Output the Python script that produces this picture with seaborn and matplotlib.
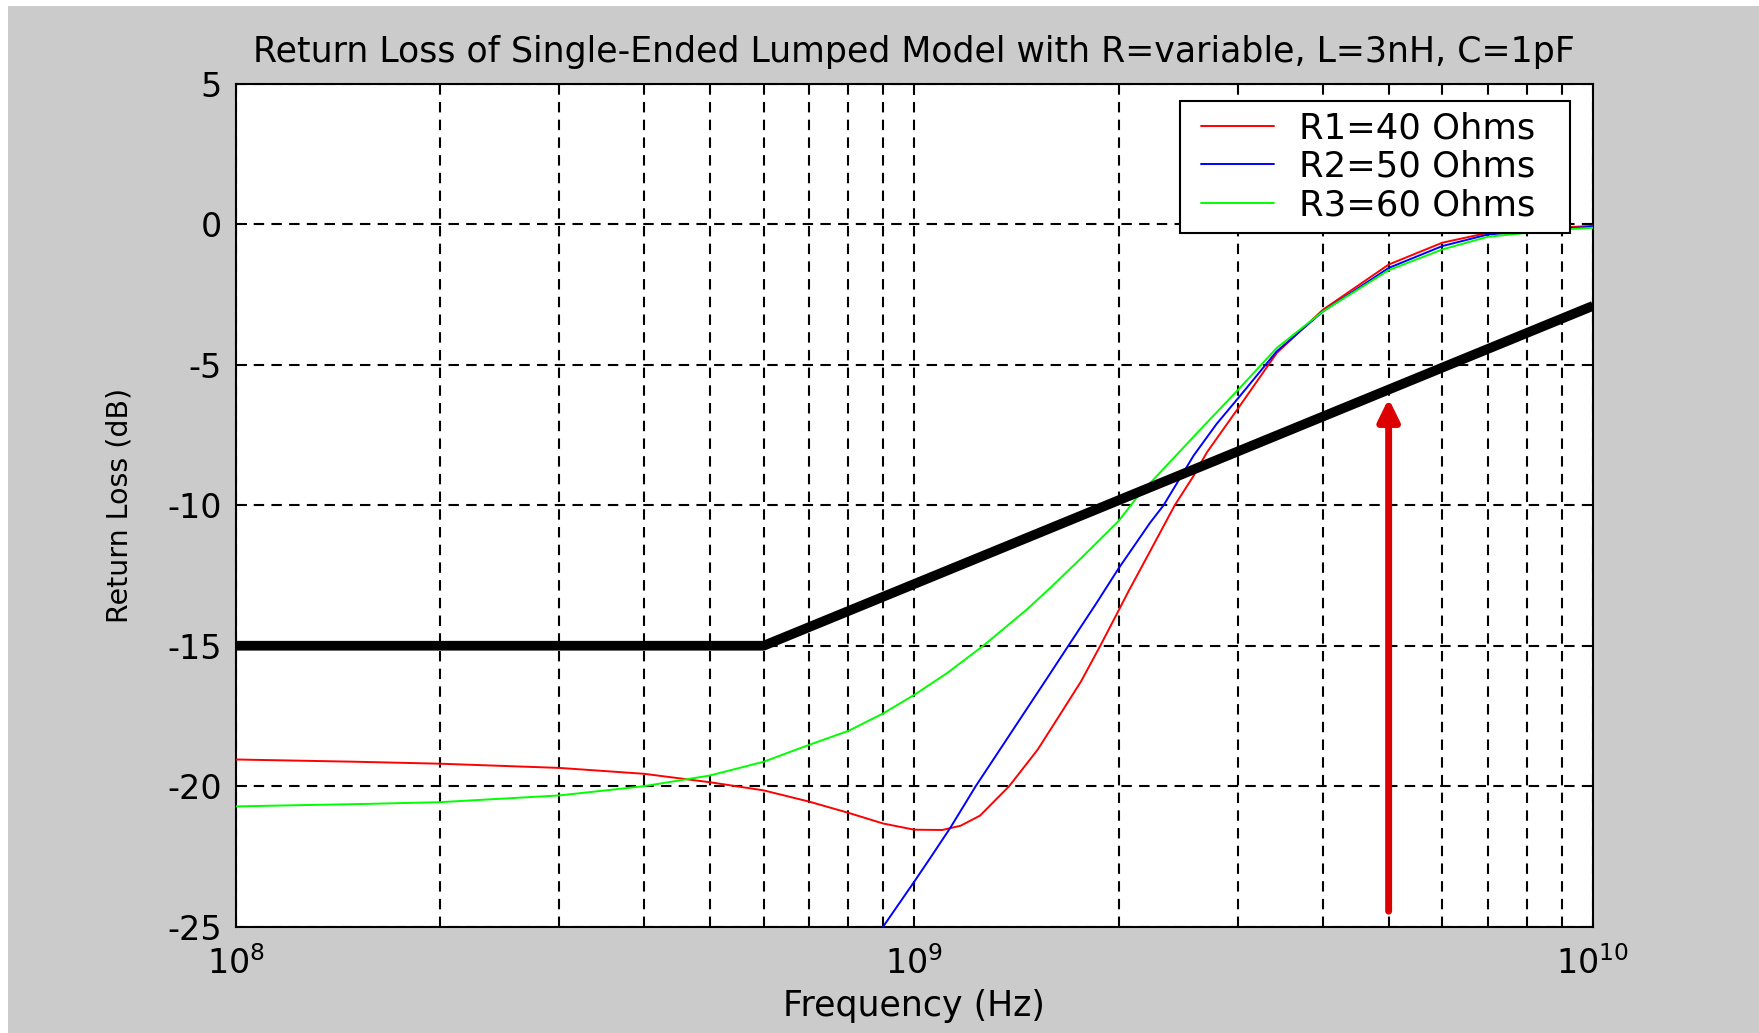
import numpy as np
import pandas as pd
import matplotlib
matplotlib.use("Agg")
import matplotlib.pyplot as plt
from matplotlib.patches import Rectangle
from matplotlib.lines import Line2D
from matplotlib.legend_handler import HandlerLine2D
from matplotlib.ticker import LogLocator, NullFormatter
import seaborn as sns

# values (frequency in Hz, return loss in dB)
r1_freq = [1e8, 1.5e8, 2e8, 3e8, 4e8, 5e8, 6e8, 7e8, 8e8, 9e8, 1e9, 1.1e9,
           1.17e9, 1.25e9, 1.38e9, 1.52e9, 1.64e9, 1.76e9, 1.88e9, 2e9, 2.07e9,
           2.23e9, 2.42e9, 2.58e9, 2.7e9, 3e9, 3.42e9, 4e9, 5e9, 6e9, 7e9,
           8e9, 1e10]
r1_db = [-19.05, -19.13, -19.2, -19.35, -19.56, -19.86, -20.15, -20.55, -20.95,
         -21.33, -21.55, -21.56, -21.41, -21.05, -20.0, -18.7, -17.45, -16.28,
         -15.0, -13.75, -13.05, -11.6, -10.0, -8.95, -8.11, -6.55, -4.58, -3.04,
         -1.43, -0.65, -0.30, -0.18, -0.05]

r2_freq = [9.0e8, 1e9, 1.057e9, 1.131e9, 1.232e9, 1.4e9, 1.57e9, 1.687e9,
           1.857e9, 2e9, 2.226e9, 2.33e9, 2.58e9, 2.79e9, 3e9, 3.42e9, 4e9,
           5e9, 6e9, 7e9, 8e9, 1e10]
r2_db = [-25.0, -23.4, -22.54, -21.47, -20.0, -17.97, -16.15, -15.0, -13.47,
         -12.25, -10.62, -10.0, -8.23, -7.1, -6.19, -4.52, -3.10, -1.55, -0.77,
         -0.36, -0.24, -0.08]

r3_freq = [1e8, 1.57e8, 2e8, 3e8, 4e8, 5e8, 6e8, 7e8, 8e8, 9e8, 1e9, 1.117e9,
           1.264e9, 1.465e9, 1.585e9, 1.755e9, 2e9, 2.127e9, 2.27e9, 2.7e9,
           3e9, 3.42e9, 4e9, 5e9, 6e9, 7e9, 8e9, 9e9, 1e10]
r3_db = [-20.72, -20.63, -20.57, -20.33, -20.0, -19.62, -19.13, -18.53, -18.03,
         -17.41, -16.75, -15.98, -15.0, -13.71, -12.95, -11.92, -10.56, -9.73,
         -8.99, -7.05, -5.89, -4.40, -3.10, -1.63, -0.89, -0.44, -0.30, -0.18,
         -0.12]

# spec mask (thick black line)
mask_freq = [1e8, 6e8, 1e10]
mask_db = [-15.0, -15.0, -2.9]

# red arrow marking 5 GHz
arrow_freq = 5e9
arrow_db = [-24.45, -6.2]

labels = ["R1=40 Ohms", "R2=50 Ohms", "R3=60 Ohms"]
colors = ["#ff0000", "#0000ff", "#00ff00"]

sns.set_style("white")
plt.rcParams["font.family"] = ["DejaVu Sans"]
plt.rcParams["mathtext.fontset"] = "dejavusans"
plt.rcParams["mathtext.default"] = "regular"
plt.rcParams["axes.unicode_minus"] = False
for k in ["text.color", "axes.labelcolor", "xtick.color", "ytick.color"]:
    plt.rcParams[k] = "black"

fig = plt.figure(figsize=(17.59, 10.33), dpi=100, facecolor="white")
fig.patches.append(Rectangle((8 / 1759, 0), 1, 1 - 6 / 1033, transform=fig.transFigure,
                             facecolor="#cbcbcb", edgecolor="none", zorder=-10))
ax = fig.add_axes([0.1339, 0.1030, 0.7717, 0.8157])
ax.set_facecolor("white")

series = [(r1_freq, r1_db), (r2_freq, r2_db), (r3_freq, r3_db)]
for (f, db), col in zip(series, colors):
    sns.lineplot(x=f, y=db, ax=ax, color=col, lw=1.4, estimator=None,
                 sort=False, legend=False, zorder=3)

sns.lineplot(x=mask_freq, y=mask_db, ax=ax, color="black", lw=7,
             estimator=None, sort=False, legend=False, zorder=4,
             solid_capstyle="butt")

ax.annotate("", xy=(arrow_freq, arrow_db[1]), xytext=(arrow_freq, arrow_db[0]),
            arrowprops=dict(arrowstyle="-|>,head_length=0.65,head_width=0.32",
                            color="#dd0000", lw=5, shrinkA=0, shrinkB=0,
                            mutation_scale=20), zorder=5)

ax.set_xscale("log")
ax.set_xlim(1e8, 1e10)
ax.set_ylim(-25, 5)
ax.set_yticks([-25, -20, -15, -10, -5, 0, 5])
ax.xaxis.set_major_locator(LogLocator(base=10))
ax.xaxis.set_minor_locator(LogLocator(base=10, subs=np.arange(2, 10)))
ax.xaxis.set_minor_formatter(NullFormatter())

grid_kw = dict(color="black", lw=1.5, linestyle=(0, (5, 3.5)))
ax.grid(True, which="both", axis="x", **grid_kw)
ax.grid(True, which="major", axis="y", **grid_kw)
ax.set_axisbelow(True)

for s in ax.spines.values():
    s.set_visible(True)
    s.set_color("black")
    s.set_linewidth(1.5)

ax.tick_params(which="both", direction="in", top=True, right=True,
               bottom=True, left=True, color="black", width=1.3)
ax.tick_params(which="major", length=8, labelsize=24, pad=10)
ax.tick_params(which="minor", length=5)
ax.tick_params(axis="x", which="major", pad=14)

ax.set_title("Return Loss of Single-Ended Lumped Model with R=variable, L=3nH, C=1pF",
             fontsize=25, pad=16)
ax.set_xlabel("Frequency (Hz)", fontsize=25, labelpad=6)
ax.set_ylabel("Return Loss (dB)", fontsize=20.5, labelpad=24)

# legend box spans the width seen in the chart; handle line inset a little
handles = [Line2D([0], [0], color=c, lw=1.4) for c in colors]
leg = ax.legend(handles, labels, loc="upper right",
                bbox_to_anchor=(0.696, 0.5, 0.2874, 0.4798), mode="expand",
                borderaxespad=0, fontsize=25.5, frameon=True, fancybox=False,
                framealpha=1, edgecolor="black", handlelength=2.62,
                handletextpad=0.42, borderpad=0.3, labelspacing=0.12,
                handler_map={Line2D: HandlerLine2D(numpoints=2, marker_pad=0.28)})
leg.get_frame().set_linewidth(1.5)
leg.set_zorder(6)

fig.savefig("out.png", dpi=100)
